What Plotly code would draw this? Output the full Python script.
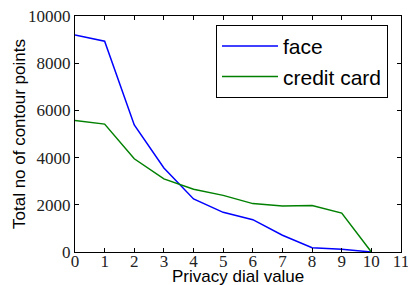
import plotly.graph_objects as go

dial = [0, 1, 2, 3, 4, 5, 6, 7, 8, 9, 10]
face = [9200, 8930, 5380, 3560, 2250, 1680, 1370, 710, 180, 120, 0]
credit_card = [5570, 5420, 3950, 3100, 2660, 2400, 2050, 1950, 1970, 1650, 0]
x_ticks = list(range(0, 12))
y_ticks = [0, 2000, 4000, 6000, 8000, 10000]

SERIF = "Liberation Serif"
SANS = "Liberation Sans"

fig = go.Figure()
fig.add_trace(go.Scatter(x=dial, y=face, mode="lines", name="face",
                         line=dict(color="#0000ff", width=1.5)))
fig.add_trace(go.Scatter(x=dial, y=credit_card, mode="lines", name="credit card",
                         line=dict(color="#008000", width=1.5)))

axis_common = dict(showgrid=False, zeroline=False, showline=True, linecolor="black",
                   linewidth=1, mirror="allticks", ticks="inside", ticklen=4,
                   tickcolor="black", tickwidth=1, automargin=False,
                   ticklabeloverflow="allow",
                   tickfont=dict(family=SERIF, size=17, color="#222"))

fig.update_xaxes(range=[0, 11], tickvals=x_ticks, ticktext=[str(v) for v in x_ticks],
                 ticklabelstandoff=-6, **axis_common)
fig.update_yaxes(range=[0, 10000], tickvals=y_ticks, ticktext=[str(v) for v in y_ticks],
                 **axis_common)

fig.add_annotation(text="Privacy dial value", xref="paper", yref="paper",
                   x=0.5, y=-0.053, xanchor="center", yanchor="top",
                   showarrow=False,
                   font=dict(family=SANS, size=17, color="black"))
fig.add_annotation(text="Total no of contour points", xref="paper", yref="paper",
                   x=0, y=0.5, xanchor="center", yanchor="middle", xshift=-56,
                   textangle=-90, showarrow=False,
                   font=dict(family=SANS, size=17, color="black"))

fig.update_layout(
    width=408, height=285,
    margin=dict(l=75, r=7, t=16, b=33),
    paper_bgcolor="white", plot_bgcolor="white",
    font=dict(family=SANS),
    showlegend=True,
    legend=dict(x=0.4325, y=0.962, xanchor="left", yanchor="top",
                bgcolor="white", bordercolor="black", borderwidth=1,
                font=dict(family=SANS, size=21, color="black"),
                itemwidth=56),
)

fig.write_html("out.html", config={"displayModeBar": False},
               post_script="document.body.style.margin='0';")
